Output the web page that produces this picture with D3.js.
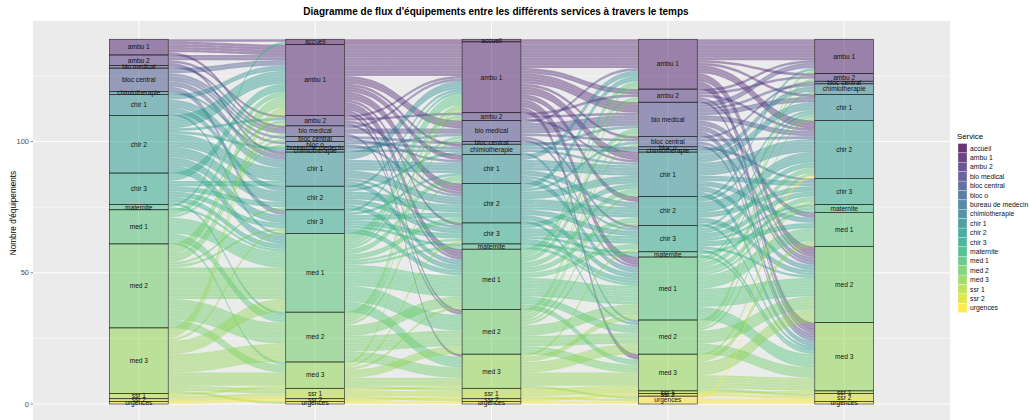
<!DOCTYPE html>
<html><head><meta charset="utf-8">
<script src="https://cdn.jsdelivr.net/npm/d3@7"></script>
<style>body{margin:0;background:#fff;} svg{display:block;} text{font-family:"Liberation Sans",Arial,sans-serif;}</style>
</head><body><svg id="c" width="1029" height="420"></svg>
<script>
const services = ["accueil","ambu 1","ambu 2","bio medical","bloc central","bloc o","bureau de medecin","chimiotherapie","chir 1","chir 2","chir 3","maternite","med 1","med 2","med 3","ssr 1","ssr 2","urgences"];
const times = ["T1","T2","T3","T4","T5"];
// stratum sizes per time (same order as services)
const strata_T1 = [0,6,4,1,9,0,0,1,8,22,12,2,13,32,25,2,1,1];
const strata_T2 = [2,27,4,4,2,2,1,1,13,9,9,0,30,19,10,4,1,1];
const strata_T3 = [1,27,3,8,1,0,0,4,11,15,8,2,23,17,13,4,1,1];
const strata_T4 = [0,19,5,13,4,1,0,1,17,11,10,2,24,13,14,1,1,3];
const strata_T5 = [0,13,3,0,1,0,0,4,10,22,10,3,13,29,26,1,3,1];
// flows [from, to, count]
const flows_T1_T2 = [
 ["ambu 1","ambu 1",4],["ambu 1","accueil",1],["ambu 1","bio medical",1],
 ["ambu 2","ambu 1",2],["ambu 2","ambu 2",1],["ambu 2","chir 1",1],
 ["bio medical","bio medical",1],
 ["bloc central","ambu 1",2],["bloc central","bio medical",1],["bloc central","bloc central",1],["bloc central","bloc o",1],["bloc central","chir 1",2],["bloc central","chir 3",2],
 ["chimiotherapie","chimiotherapie",1],
 ["chir 1","ambu 1",2],["chir 1","chir 1",3],["chir 1","chir 2",2],["chir 1","med 1",1],
 ["chir 2","ambu 1",5],["chir 2","ambu 2",1],["chir 2","bureau de medecin",1],["chir 2","chir 1",5],["chir 2","chir 2",4],["chir 2","chir 3",3],["chir 2","med 1",3],
 ["chir 3","ambu 1",3],["chir 3","chir 1",2],["chir 3","chir 2",2],["chir 3","chir 3",2],["chir 3","med 1",2],["chir 3","med 2",1],
 ["maternite","accueil",1],["maternite","med 1",1],
 ["med 1","ambu 1",2],["med 1","ambu 2",1],["med 1","med 1",6],["med 1","med 2",3],["med 1","med 3",1],
 ["med 2","ambu 1",4],["med 2","bio medical",1],["med 2","bloc central",1],["med 2","bloc o",1],["med 2","chir 2",1],["med 2","chir 3",1],["med 2","med 1",12],["med 2","med 2",8],["med 2","med 3",3],
 ["med 3","ambu 1",3],["med 3","ambu 2",1],["med 3","chir 3",1],["med 3","med 1",5],["med 3","med 2",7],["med 3","med 3",5],["med 3","ssr 1",2],["med 3","urgences",1],
 ["ssr 1","ssr 1",1],["ssr 1","med 3",1],
 ["ssr 2","ssr 1",1],
 ["urgences","ssr 2",1]
];
const flows_T2_T3 = [
 ["accueil","accueil",1],["accueil","ambu 1",1],
 ["ambu 1","ambu 1",12],["ambu 1","bio medical",3],["ambu 1","chimiotherapie",1],["ambu 1","chir 1",2],["ambu 1","chir 2",3],["ambu 1","chir 3",1],["ambu 1","med 1",3],["ambu 1","med 2",1],["ambu 1","med 3",1],
 ["ambu 2","ambu 1",1],["ambu 2","ambu 2",1],["ambu 2","chir 2",1],["ambu 2","med 1",1],
 ["bio medical","bio medical",2],["bio medical","ambu 1",1],["bio medical","med 2",1],
 ["bloc central","bloc central",1],["bloc central","chir 1",1],
 ["bloc o","chir 2",1],["bloc o","chimiotherapie",1],
 ["bureau de medecin","bio medical",1],
 ["chimiotherapie","chimiotherapie",1],
 ["chir 1","ambu 1",3],["chir 1","chir 1",4],["chir 1","chir 2",3],["chir 1","chir 3",1],["chir 1","med 1",2],
 ["chir 2","ambu 1",1],["chir 2","chimiotherapie",1],["chir 2","chir 2",3],["chir 2","chir 3",2],["chir 2","med 1",2],
 ["chir 3","ambu 1",1],["chir 3","chir 1",1],["chir 3","chir 2",2],["chir 3","chir 3",2],["chir 3","maternite",1],["chir 3","med 1",2],
 ["med 1","ambu 1",4],["med 1","ambu 2",1],["med 1","bio medical",1],["med 1","chir 1",2],["med 1","chir 2",2],["med 1","chir 3",1],["med 1","maternite",1],["med 1","med 1",8],["med 1","med 2",6],["med 1","med 3",4],
 ["med 2","ambu 1",2],["med 2","ambu 2",1],["med 2","bio medical",1],["med 2","chir 1",1],["med 2","med 1",4],["med 2","med 2",6],["med 2","med 3",4],
 ["med 3","ambu 1",1],["med 3","chir 3",1],["med 3","med 1",1],["med 3","med 2",3],["med 3","med 3",3],["med 3","ssr 1",1],
 ["ssr 1","ssr 1",2],["ssr 1","med 3",1],["ssr 1","ssr 2",1],
 ["ssr 2","ssr 1",1],
 ["urgences","urgences",1]
];
const flows_T3_T4 = [
 ["accueil","ambu 1",1],
 ["ambu 1","ambu 1",10],["ambu 1","ambu 2",2],["ambu 1","bio medical",4],["ambu 1","bloc central",1],["ambu 1","chir 1",3],["ambu 1","chir 2",2],["ambu 1","med 1",3],["ambu 1","med 3",2],
 ["ambu 2","ambu 2",1],["ambu 2","bio medical",1],["ambu 2","chir 1",1],
 ["bio medical","bio medical",4],["bio medical","ambu 1",1],["bio medical","bloc central",1],["bio medical","med 1",1],["bio medical","chir 3",1],
 ["bloc central","bloc o",1],
 ["chimiotherapie","chimiotherapie",1],["chimiotherapie","chir 1",1],["chimiotherapie","bio medical",1],["chimiotherapie","med 2",1],
 ["chir 1","ambu 1",2],["chir 1","chir 1",4],["chir 1","chir 2",2],["chir 1","chir 3",1],["chir 1","med 1",2],
 ["chir 2","ambu 1",2],["chir 2","bloc central",1],["chir 2","chir 1",3],["chir 2","chir 2",4],["chir 2","chir 3",2],["chir 2","med 1",2],["chir 2","med 2",1],
 ["chir 3","chir 1",2],["chir 3","chir 3",3],["chir 3","med 1",2],["chir 3","maternite",1],
 ["maternite","maternite",1],["maternite","med 1",1],
 ["med 1","ambu 1",2],["med 1","ambu 2",1],["med 1","bio medical",2],["med 1","chir 1",2],["med 1","chir 2",2],["med 1","chir 3",2],["med 1","med 1",7],["med 1","med 2",3],["med 1","med 3",2],
 ["med 2","ambu 1",1],["med 2","ambu 2",1],["med 2","bio medical",1],["med 2","bloc central",1],["med 2","chir 1",1],["med 2","chir 2",1],["med 2","med 1",4],["med 2","med 2",4],["med 2","med 3",3],
 ["med 3","chir 3",1],["med 3","med 1",2],["med 3","med 2",4],["med 3","med 3",5],["med 3","urgences",1],
 ["ssr 1","med 3",2],["ssr 1","ssr 1",1],["ssr 1","urgences",1],
 ["ssr 2","ssr 2",1],
 ["urgences","urgences",1]
];
const flows_T4_T5 = [
 ["ambu 1","ambu 1",8],["ambu 1","ambu 2",1],["ambu 1","chir 1",1],["ambu 1","chir 2",3],["ambu 1","med 2",3],["ambu 1","med 3",3],
 ["ambu 2","ambu 1",1],["ambu 2","ambu 2",1],["ambu 2","chir 2",1],["ambu 2","med 2",1],["ambu 2","med 3",1],
 ["bio medical","ambu 1",2],["bio medical","chimiotherapie",1],["bio medical","chir 1",2],["bio medical","chir 2",2],["bio medical","med 1",2],["bio medical","med 2",2],["bio medical","med 3",2],
 ["bloc central","bloc central",1],["bloc central","chir 2",1],["bloc central","med 2",1],["bloc central","med 3",1],
 ["bloc o","chir 3",1],
 ["chimiotherapie","chimiotherapie",1],
 ["chir 1","chimiotherapie",1],["chir 1","chir 1",3],["chir 1","chir 2",5],["chir 1","chir 3",2],["chir 1","med 1",2],["chir 1","med 2",2],["chir 1","med 3",2],
 ["chir 2","ambu 1",1],["chir 2","chir 1",1],["chir 2","chir 2",4],["chir 2","chir 3",2],["chir 2","med 2",2],["chir 2","med 3",1],
 ["chir 3","chir 1",1],["chir 3","chir 2",2],["chir 3","chir 3",2],["chir 3","maternite",1],["chir 3","med 1",2],["chir 3","med 2",1],["chir 3","med 3",1],
 ["maternite","maternite",1],["maternite","med 3",1],
 ["med 1","chimiotherapie",1],["med 1","chir 1",1],["med 1","chir 2",2],["med 1","chir 3",2],["med 1","maternite",1],["med 1","med 1",5],["med 1","med 2",7],["med 1","med 3",5],
 ["med 2","ambu 1",1],["med 2","ambu 2",1],["med 2","chir 1",1],["med 2","chir 2",1],["med 2","med 2",5],["med 2","med 3",4],
 ["med 3","chir 3",1],["med 3","med 1",2],["med 3","med 2",5],["med 3","med 3",5],["med 3","ssr 2",1],
 ["ssr 1","ssr 1",1],
 ["ssr 2","ssr 2",1],
 ["urgences","chir 2",1],["urgences","ssr 2",1],["urgences","urgences",1]
];
const yTicks = [0, 50, 100];
const yMinor = [25, 75, 125];

const strata = [strata_T1, strata_T2, strata_T3, strata_T4, strata_T5];
const flows = [flows_T1_T2, flows_T2_T3, flows_T3_T4, flows_T4_T5];
const total = d3.sum(strata_T1);

const svg = d3.select("#c");
const panel = {l: 33, t: 21, r: 950, b: 420};
const x = d3.scaleLinear().domain([0.4, 5.6]).range([panel.l, panel.r]);
const y = d3.scaleLinear().domain([-0.05*total, 1.05*total]).range([422.25, panel.t]);
const color = d3.scaleOrdinal().domain(services).range(services.map((s,i)=>d3.interpolateViridis(i/(services.length-1))));
const halfW = (x(2)-x(1))/6;

// panel
svg.append("rect").attr("x",panel.l).attr("y",panel.t).attr("width",panel.r-panel.l).attr("height",panel.b-panel.t).attr("fill","#EBEBEB");
const grid = svg.append("g");
yMinor.forEach(v=>grid.append("line").attr("x1",panel.l).attr("x2",panel.r).attr("y1",y(v)).attr("y2",y(v)).attr("stroke","#fff").attr("stroke-width",0.5));
yTicks.forEach(v=>grid.append("line").attr("x1",panel.l).attr("x2",panel.r).attr("y1",y(v)).attr("y2",y(v)).attr("stroke","#fff").attr("stroke-width",1));
times.forEach((t,i)=>grid.append("line").attr("x1",x(i+1)).attr("x2",x(i+1)).attr("y1",panel.t).attr("y2",panel.b).attr("stroke","#fff").attr("stroke-width",1));

// stratum layout
const layout = strata.map(arr=>{
  let cum = total; const m = {};
  services.forEach((s,i)=>{ m[s] = {top: cum, bot: cum-arr[i], n: arr[i]}; cum -= arr[i]; });
  return m;
});
const sIdx = s=>services.indexOf(s);

// flows
const fg = svg.append("g");
flows.forEach((fl,k)=>{
  const L = layout[k], R = layout[k+1];
  const outOff = {}, inOff = {};
  services.forEach(s=>{ outOff[s]=L[s].top; inOff[s]=R[s].top; });
  const items = fl.map(f=>({from:f[0], to:f[1], n:f[2]}));
  const bySrc = items.slice().sort((a,b)=>sIdx(a.from)-sIdx(b.from) || sIdx(a.to)-sIdx(b.to));
  bySrc.forEach(f=>{ f.y0 = outOff[f.from]; outOff[f.from] -= f.n; });
  const byDst = items.slice().sort((a,b)=>sIdx(a.to)-sIdx(b.to) || sIdx(a.from)-sIdx(b.from));
  byDst.forEach(f=>{ f.y1 = inOff[f.to]; inOff[f.to] -= f.n; });
  const x0 = x(k+1)+halfW, x1 = x(k+2)-halfW, xm = (x0+x1)/2;
  items.forEach(f=>{
    for(let u=0; u<f.n; u++){
      const a0 = y(f.y0-u), a1 = y(f.y0-u-1), b0 = y(f.y1-u), b1 = y(f.y1-u-1);
      const p = `M${x0},${a0}C${xm},${a0} ${xm},${b0} ${x1},${b0}L${x1},${b1}C${xm},${b1} ${xm},${a1} ${x0},${a1}Z`;
      fg.append("path").attr("d",p).attr("fill",color(f.from)).attr("fill-opacity",0.42)
        .attr("stroke","#fff").attr("stroke-opacity",0.12).attr("stroke-width",0.3);
    }
  });
});

// strata
const sg = svg.append("g");
layout.forEach((m,k)=>{
  services.forEach(s=>{
    const d = m[s]; if(!d.n) return;
    sg.append("rect").attr("x",x(k+1)-halfW).attr("y",y(d.top)).attr("width",2*halfW).attr("height",y(d.bot)-y(d.top))
      .attr("fill",color(s)).attr("fill-opacity",0.5).attr("stroke","#222").attr("stroke-width",0.6);
  });
  services.forEach(s=>{
    const d = m[s]; if(!d.n) return;
    sg.append("text").attr("x",x(k+1)).attr("y",y((d.top+d.bot)/2)).attr("dy","0.35em").attr("text-anchor","middle")
      .attr("font-size",6.6).attr("fill","#111").text(s);
  });
});

// y axis
const ax = svg.append("g");
yTicks.forEach(v=>{
  ax.append("line").attr("x1",panel.l-2.5).attr("x2",panel.l).attr("y1",y(v)).attr("y2",y(v)).attr("stroke","#333").attr("stroke-width",0.6);
  ax.append("text").attr("x",panel.l-4).attr("y",y(v)).attr("dy","0.35em").attr("text-anchor","end").attr("font-size",7.5).attr("fill","#4D4D4D").text(v);
});
svg.append("text").attr("transform",`translate(16,${(panel.t+405)/2}) rotate(-90)`).attr("text-anchor","middle").attr("font-size",8.2).attr("fill","#000").text("Nombre d'équipements");

// title
svg.append("text").attr("x",496).attr("y",15).attr("text-anchor","middle").attr("font-size",10).attr("font-weight","bold").text("Diagramme de flux d'équipements entre les différents services à travers le temps");

// legend
const lg = svg.append("g");
lg.append("text").attr("x",957).attr("y",139).attr("font-size",7.8).text("Service");
services.forEach((s,i)=>{
  const ky = 143.5 + i*9.4;
  lg.append("rect").attr("x",958).attr("y",ky).attr("width",9).attr("height",9.4).attr("fill",color(s)).attr("fill-opacity",0.8).attr("stroke","#fff").attr("stroke-width",0.3);
  lg.append("text").attr("x",970).attr("y",ky+4.7).attr("dy","0.35em").attr("font-size",6.8).attr("fill","#111").text(s);
});
</script></body></html>
